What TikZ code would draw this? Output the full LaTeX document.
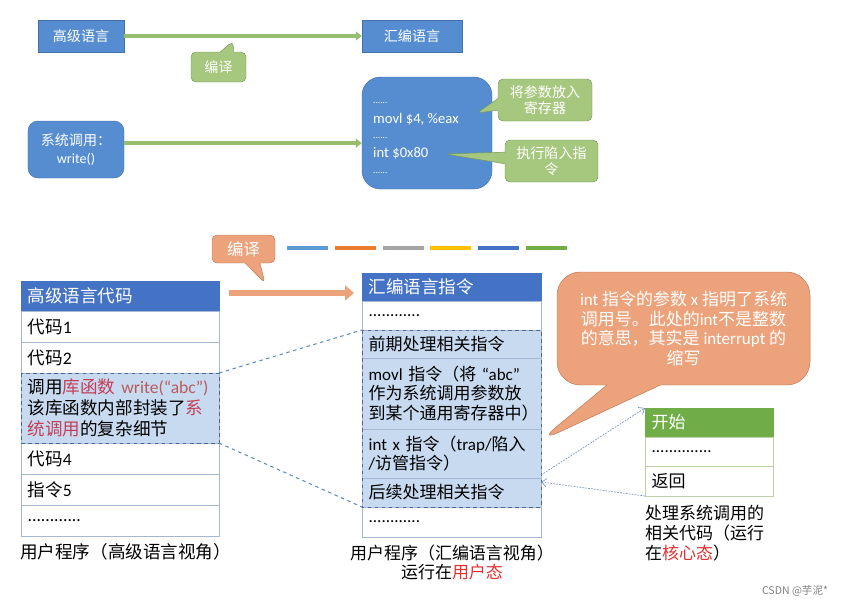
\documentclass[tikz,border=0pt]{standalone}
\usepackage{fontspec}
\setmainfont{Noto Sans CJK SC}
\newfontfamily\latfont{Carlito}
\newcommand\ltn[1]{{\latfont #1}}
\usepackage{tikz}
\usetikzlibrary{arrows.meta}
\usetikzlibrary{shapes.callouts}
\usetikzlibrary{positioning}
\usetikzlibrary{calc}
\definecolor{topblue}{RGB}{86,141,208}
\definecolor{topblueline}{RGB}{66,112,168}
\definecolor{bubblegreen}{RGB}{166,199,126}
\definecolor{bubblegreenline}{RGB}{118,150,88}
\definecolor{arrowgreen}{RGB}{150,190,110}
\definecolor{hdrblue}{RGB}{68,114,196}
\definecolor{rowline}{RGB}{165,183,212}
\definecolor{hifill}{RGB}{199,218,240}
\definecolor{hidash}{RGB}{75,105,145}
\definecolor{linkblue}{RGB}{95,140,190}
\definecolor{bubbleorange}{RGB}{236,163,123}
\definecolor{bubbleorangeline}{RGB}{186,120,88}
\definecolor{hdrgreen}{RGB}{112,173,71}
\definecolor{rowgreen}{RGB}{190,210,170}
\definecolor{libred}{RGB}{196,62,86}
\definecolor{strred}{RGB}{184,92,92}
\definecolor{modered}{RGB}{228,48,48}
\definecolor{dotblue}{RGB}{125,150,190}
\definecolor{dashA}{RGB}{91,155,213}
\definecolor{dashB}{RGB}{237,125,49}
\definecolor{dashC}{RGB}{165,165,165}
\definecolor{dashD}{RGB}{255,192,0}
\definecolor{dashE}{RGB}{68,114,196}
\definecolor{dashF}{RGB}{112,173,71}
\tikzset{
  % arrow tips and lines
  >=latex,
  line/.style={draw, ->},
  caption/.style={inner sep=0pt, font=\fontsize{15}{18}\selectfont}
}

\begin{document}
\begin{tikzpicture}[x=0.03cm, y=-0.03cm]
    % Define styles
    \tikzstyle{bluebox} = [rectangle, draw=topblueline, fill=topblue, text=white, font=\fontsize{12}{15}\selectfont, inner sep=0pt, align=center]
    \tikzstyle{codetext} = [anchor=west, text=white, inner sep=0pt, font=\latfont\fontsize{12.5}{14}\selectfont]
    \tikzstyle{codedots} = [anchor=west, text=white, inner sep=0pt, font=\latfont\fontsize{8}{9}\selectfont]
    \tikzstyle{gbubble} = [rectangle callout, draw=bubblegreenline, fill=bubblegreen, text=white, rounded corners=0.15cm, align=center, inner sep=0pt, font=\fontsize{12}{14}\selectfont]
    \tikzstyle{obubble} = [rectangle callout, draw=bubbleorangeline, fill=bubbleorange, text=white, align=center, inner sep=0pt, font=\fontsize{14.5}{17}\selectfont]
    \tikzstyle{garrow} = [draw=arrowgreen, line width=3.4pt, -{Triangle[length=0.18cm, width=0.27cm]}]
    \tikzstyle{oarrow} = [draw=bubbleorange, line width=4.5pt, -{Triangle[length=0.27cm, width=0.45cm]}]
    \tikzstyle{hdrL} = [rectangle, draw=hdrblue, fill=hdrblue, text=white, anchor=north, outer sep=0pt, inner xsep=0.2cm, inner ysep=0pt, text width=5.54cm, align=left, font=\fontsize{15}{18}\selectfont]
    \tikzstyle{rowL} = [rectangle, draw=rowline, fill=white, anchor=north, outer sep=0pt, inner xsep=0.2cm, inner ysep=0pt, text width=5.54cm, align=left, font=\fontsize{15}{18}\selectfont]
    \tikzstyle{hdrR} = [rectangle, draw=hdrblue, fill=hdrblue, text=white, anchor=north, outer sep=0pt, inner xsep=0.2cm, inner ysep=0pt, text width=4.97cm, align=left, font=\fontsize{15}{18}\selectfont]
    \tikzstyle{rowR} = [rectangle, draw=rowline, fill=white, anchor=north, outer sep=0pt, inner xsep=0.2cm, inner ysep=0pt, text width=4.97cm, align=left, font=\fontsize{14.5}{16.5}\selectfont]
    \tikzstyle{hdrG} = [rectangle, draw=hdrgreen, fill=hdrgreen, text=white, anchor=north, outer sep=0pt, inner xsep=0.2cm, inner ysep=0pt, text width=3.44cm, align=left, font=\fontsize{14.5}{17}\selectfont]
    \tikzstyle{rowG} = [rectangle, draw=rowgreen, fill=white, anchor=north, outer sep=0pt, inner xsep=0.2cm, inner ysep=0pt, text width=3.44cm, align=left, font=\fontsize{14.5}{17}\selectfont]
    \tikzstyle{hibox} = [draw=hidash, dashed, line width=0.8pt]
    \tikzstyle{link} = [draw=linkblue, dashed, line width=0.9pt]
    \tikzstyle{dotarrow} = [draw=dotblue, dash pattern=on 1.5pt off 1pt, line width=0.6pt, -{Straight Barb[length=0.15cm, width=0.25cm]}]

    \useasboundingbox (0,0) rectangle (847,607);

    % Place nodes (top part)
    \node [bluebox, minimum width=2.58cm, minimum height=0.96cm] (hll) at (81,36) {高级语言};
    \node [bluebox, minimum width=3cm, minimum height=0.96cm] (asm) at (412,36) {汇编语言};
    \node [bluebox, rounded corners=0.3cm, minimum width=2.88cm, minimum height=1.71cm] (sys) at (76,149.5) {系统调用：\\\ltn{write()}};
    \node [bluebox, rounded corners=0.55cm, minimum width=3.9cm, minimum height=3.36cm] (code) at (427,133) {};
    \node [codedots] (dotsA) at (373,103) {......};
    \node [codetext] (movl) at (373,119) {movl \$4, \%eax};
    \node [codedots] (dotsB) at (373,138) {......};
    \node [codetext] (intc) at (373,153) {int \$0x80};
    \node [codedots] (dotsC) at (373,173) {......};

    \coordinate (tipA) at (233,41);
    \coordinate (tipB) at (477,113);
    \coordinate (tipC) at (445,154);
    \node [gbubble, minimum width=1.65cm, minimum height=0.9cm, callout pointer width=0.4cm, callout absolute pointer={(tipA)}] (cmpA) at (218.5,67) {编译};
    \node [gbubble, minimum width=2.82cm, minimum height=1.26cm, callout pointer width=0.35cm, callout absolute pointer={(tipB)}] (regnote) at (545,100) {将参数放入\\寄存器};
    \node [gbubble, minimum width=2.79cm, minimum height=1.26cm, callout pointer width=0.35cm, callout absolute pointer={(tipC)}] (trapnote) at (551.5,161) {执行陷入指\\令};

    % Draw edges (top part)
    \path [garrow] (hll) -- (asm);
    \path [garrow] ([yshift=0.19cm]sys.east) -- ([yshift=0.19cm]sys.east -| code.west);

    % Colour strip
    \foreach \c [count=\i from 0] in {dashA,dashB,dashC,dashD,dashE,dashF}
        \draw [\c, line width=3pt] (287+\i*47.8,248) -- (328+\i*47.8,248);

    % High level language table
    \node [hdrL, minimum height=0.9cm] (hdrL) at (120,281) {高级语言代码};
    \node [rowL, below=0pt of hdrL, minimum height=0.93cm] (codeA) {代码\ltn{1}};
    \node [rowL, below=0pt of codeA, minimum height=0.93cm] (codeB) {代码\ltn{2}};
    \node [rowL, below=0pt of codeB, minimum height=2.1cm, fill=hifill] (callL) {调用{\color{libred}库函数}~{\color{strred}\ltn{write(“abc”)}}\\该库函数内部封装了{\color{libred}系}\\{\color{libred}统调用}的复杂细节};
    \node [rowL, below=0pt of callL, minimum height=0.93cm] (codeD) {代码\ltn{4}};
    \node [rowL, below=0pt of codeD, minimum height=0.93cm] (codeE) {指令\ltn{5}};
    \node [rowL, below=0pt of codeE, minimum height=0.93cm] (codeF) {\ltn{............}};
    \draw [hibox] (callL.north west) rectangle (callL.south east);
    \node [caption, anchor=west] (capL) at (20,552) {用户程序（高级语言视角）};

    % Assembly table
    \node [hdrR, minimum height=0.84cm] (hdrR) at (451.5,273) {汇编语言指令};
    \node [rowR, below=0pt of hdrR, minimum height=0.87cm] (asmA) {\ltn{............}};
    \node [rowR, below=0pt of asmA, minimum height=0.84cm, fill=hifill] (preR) {前期处理相关指令};
    \node [rowR, below=0pt of preR, minimum height=2.13cm, fill=hifill] (movR) {\ltn{movl} 指令（将 \ltn{“abc”}\\作为系统调用参数放\\到某个通用寄存器中）};
    \node [rowR, below=0pt of movR, minimum height=1.47cm, fill=hifill] (intR) {\ltn{int x} 指令（\ltn{trap/}陷入\\\ltn{/}访管指令）};
    \node [rowR, below=0pt of intR, minimum height=0.87cm, fill=hifill] (postR) {后续处理相关指令};
    \node [rowR, below=0pt of postR, minimum height=0.9cm] (asmB) {\ltn{............}};
    \draw [hibox] (preR.north west) rectangle (postR.south east);
    \node [caption, align=center, font=\fontsize{14.5}{16.5}\selectfont] (capR) at (452,562.5) {用户程序（汇编语言视角）\\运行在{\color{modered}用户态}};

    % Kernel table
    \node [hdrG, minimum height=0.87cm] (hdrG) at (709,408) {开始};
    \node [rowG, below=0pt of hdrG, minimum height=0.87cm] (midG) {\ltn{..............}};
    \node [rowG, below=0pt of midG, minimum height=0.9cm] (retG) {返回};
    \node [caption, anchor=north west, align=left, font=\fontsize{14.5}{17}\selectfont] (capG) at (645,505) {处理系统调用的\\相关代码（运行\\在{\color{modered}核心态}）};

    % Bubbles (lower part)
    \coordinate (tipD) at (265,283);
    \coordinate (tipE) at (538,442);
    \node [obubble, rounded corners=0.15cm, minimum width=1.89cm, minimum height=0.84cm, font=\fontsize{14}{16}\selectfont, callout pointer width=0.45cm, callout absolute pointer={(tipD)}] (cmpB) at (243.5,249) {编译};
    \node [obubble, rounded corners=0.7cm, minimum width=7.59cm, minimum height=3.39cm, callout pointer width=1.6cm, callout absolute pointer={(tipE)}] (intnote) at (683.5,328.5) {\ltn{int} 指令的参数 \ltn{x} 指明了系统\\调用号。此处的\ltn{int}不是整数\\的意思，其实是 \ltn{interrupt} 的\\缩写};

    % Draw edges (lower part)
    \path [oarrow] ($(hdrL.east)+(10,-3)$) -- ($(hdrL.east -| hdrR.west)+(-8,-3)$);
    \path [link] (callL.north east) -- (preR.north west);
    \path [link] (callL.south east) -- (postR.south west);
    \path [dotarrow] ([yshift=0.09cm]postR.north east) -- (hdrG.north west);
    \path [dotarrow] (retG.south west) -- ([yshift=-0.12cm]postR.north east);

    \node [text=gray, inner sep=0pt, font=\fontsize{9}{11}\selectfont] (mark) at (795,591) {CSDN @芋泥*};
\end{tikzpicture}
\end{document}
